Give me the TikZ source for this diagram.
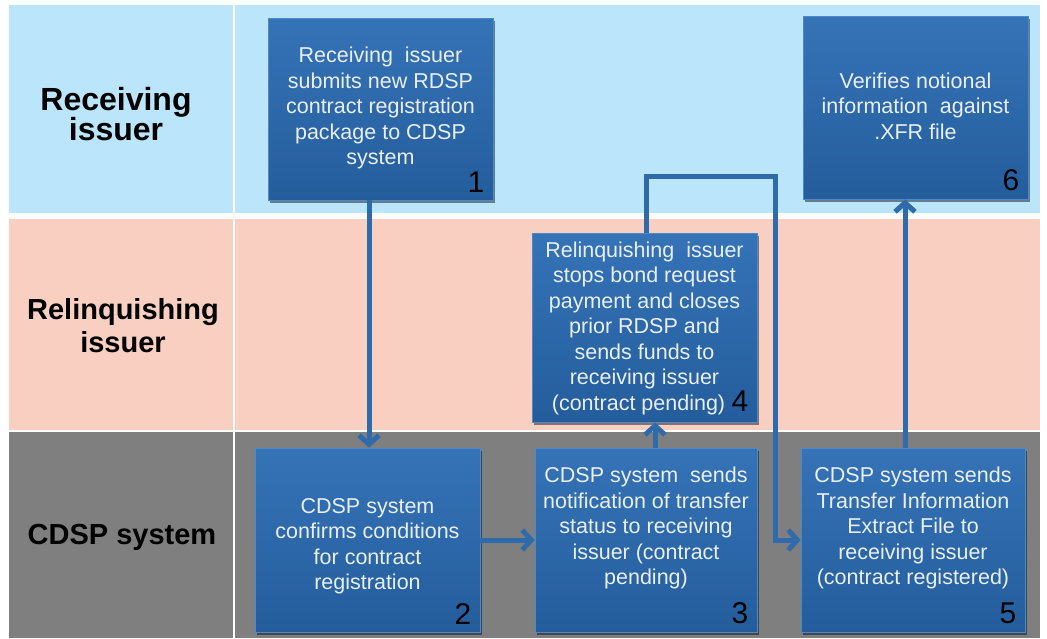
\documentclass[tikz,border=0pt]{standalone}
\usepackage{fontspec}
\setmainfont{Liberation Sans}
\usetikzlibrary{arrows.meta,shadows,calc}
\definecolor{laneblue}{HTML}{BBE5FA}
\definecolor{lanepink}{HTML}{F9CFC2}
\definecolor{lanegray}{HTML}{7F7F7F}
\definecolor{boxtop}{HTML}{3573B7}
\definecolor{boxbot}{HTML}{245D9C}
\definecolor{boxedge}{HTML}{4C88CA}
\definecolor{arrowblue}{HTML}{2F6BAA}
\definecolor{boxtext}{HTML}{E9EEF5}
\begin{document}
\begin{tikzpicture}[x=1pt,y=-1pt,
  stepbox/.style={draw=boxedge, line width=0.8pt, top color=boxtop, bottom color=boxbot,
    minimum width=225pt, minimum height=184pt, inner sep=0pt,
    drop shadow={shadow xshift=2pt, shadow yshift=-3pt, opacity=0.45, fill=black}},
  boxtxt/.style={text=boxtext, font=\fontsize{21.5}{25.5}\selectfont, align=center, inner sep=0pt},
  num/.style={font=\fontsize{30}{30}\selectfont, text=black, anchor=south east, inner sep=0pt, xshift=-9pt, yshift=8pt},
  lanelabel/.style={font=\fontsize{29}{33}\selectfont\bfseries, align=center, text=black},
  arr/.style={draw=arrowblue, line width=5pt, line join=miter, -{Straight Barb[length=9pt,width=20pt]}}
]
\useasboundingbox (0,0) rectangle (1047,638);
\fill[white] (0,0) rectangle (1047,638);
\fill[laneblue] (9,5) rectangle (1040,213);
\fill[lanepink] (9,219) rectangle (1040,430);
\fill[lanegray] (9,432) rectangle (1040,638);
\draw[white, line width=1.5pt] (234,5) -- (234,638);

\node[lanelabel, font=\fontsize{32}{30}\selectfont\bfseries] (l1) at (116,114) {Receiving\\issuer};
\node[lanelabel] (l2) at (123,326) {Relinquishing\\issuer};
\node[lanelabel] (l3) at (122,537) {CDSP system};

\node[stepbox, minimum height=182pt] (b1) at (380.5,109) {};
\node[stepbox, minimum height=183pt] (b6) at (915.5,107.5) {};
\node[stepbox, minimum height=189pt] (b4) at (644.5,327.5) {};
\node[stepbox] (b2) at (367.5,540) {};
\node[stepbox, minimum width=222pt] (b3) at (646,540) {};
\node[stepbox, minimum width=224pt] (b5) at (913,540) {};

\node[boxtxt] (t1) at (380.5,108) {Receiving \ issuer\\submits new RDSP\\contract registration\\package to CDSP\\system};
\node[boxtxt] (t6) at (915.5,106) {Verifies notional\\information \ against\\.XFR file};
\node[boxtxt] (t4) at (644.5,328) {Relinquishing \ issuer\\stops bond request\\payment and closes\\prior RDSP and\\sends funds to\\receiving issuer\\(contract pending)\phantom{4}};
\node[boxtxt] (t2) at (367.5,546) {CDSP system\\confirms conditions\\for contract\\registration};
\node[boxtxt] (t3) at (646,528) {CDSP system \ sends\\notification of transfer\\status to receiving\\issuer (contract\\pending)};
\node[boxtxt] (t5) at (913,528) {CDSP system sends\\Transfer Information\\Extract File to\\receiving issuer\\(contract registered)};

\node[num] (n1) at (b1.south east) {1};
\node[num] (n2) at (b2.south east) {2};
\node[num] (n3) at (b3.south east) {3};
\node[num, yshift=3pt] (n4) at (b4.south east) {4};
\node[num] (n5) at (b5.south east) {5};
\node[num] (n6) at (b6.south east) {6};

\coordinate (a12) at (369,0);
\draw[arr] (b1.south -| a12) -- (b2.north -| a12);
\draw[arr] (b2.east) -- (b3.west);
\coordinate (a34) at (655,0);
\draw[arr] (b3.north -| a34) -- (b4.south -| a34);
\coordinate (a4top) at (646,176);
\coordinate (a4right) at (775,540);
\draw[arr] (b4.north -| a4top) |- (a4right |- a4top) -- (a4right) -- (b5.west);
\coordinate (a56) at (905,0);
\draw[arr] (b5.north -| a56) -- (b6.south -| a56);
\end{tikzpicture}
\end{document}
